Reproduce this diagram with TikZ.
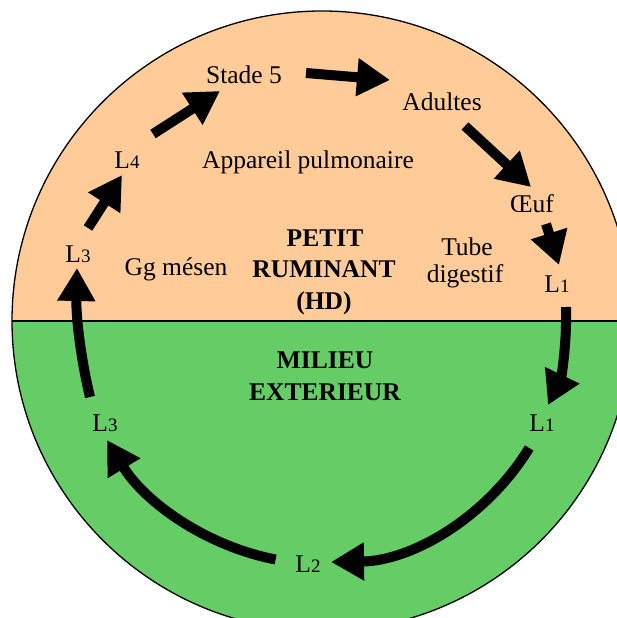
\documentclass[tikz,border=0pt]{standalone}
\usepackage{fontspec}
\setmainfont{Liberation Serif}
\usetikzlibrary{arrows.meta}
\definecolor{peach}{HTML}{FFCC99}
\definecolor{grass}{HTML}{66CC66}
\tikzset{
  lbl/.style={anchor=base, inner sep=0pt, font=\fontsize{25.5}{30}\selectfont},
  blbl/.style={anchor=base, inner sep=0pt, font=\fontsize{25.5}{30}\selectfont\bfseries},
  flow/.style={line width=10pt, -{Triangle[length=33pt,width=36pt]}},
  rim/.style={line width=1.3pt, draw=black}
}
\newcommand{\sdig}[1]{{\fontsize{19}{19}\selectfont #1}}
\begin{document}
\begin{tikzpicture}[x=1pt,y=-1pt]
\useasboundingbox (0,0) rectangle (616,618);
\coordinate (O) at (322,321);
\begin{scope}
  \clip (O) circle[radius=310pt];
  \fill[peach] (0,0) rectangle (640,321);
  \fill[grass] (0,321) rectangle (640,640);
\end{scope}
\draw[rim] (O) circle[radius=310pt];
\coordinate (divL) at (12,321);
\coordinate (divR) at (632,321);
\draw[rim] (divL) -- (divR);

% labels
\node[lbl] (stade) at (244,84) {Stade 5};
\node[lbl] (adultes) at (442,110) {Adultes};
\node[lbl] (appareil) at (308,168) {Appareil pulmonaire};
\node[lbl] (L4) at (127,168.5) {L\sdig{4}};
\node[lbl] (oeuf) at (532,212) {Œuf};
\node[lbl] (tube) at (467,255) {Tube};
\node[lbl] (digestif) at (465,282) {digestif};
\node[lbl] (L1a) at (557,292) {L\sdig{1}};
\node[blbl] (petit) at (325,246) {PETIT};
\node[blbl] (rumin) at (324,277.5) {RUMINANT};
\node[blbl] (hd) at (324,309) {(HD)};
\node[lbl] (gg) at (176,275.5) {Gg mésen};
\node[lbl] (L3a) at (78,262) {L\sdig{3}};
\node[blbl] (milieu) at (325,368) {MILIEU};
\node[blbl] (ext) at (325,400) {EXTERIEUR};
\node[lbl] (L3b) at (105,431) {L\sdig{3}};
\node[lbl] (L1b) at (542,431) {L\sdig{1}};
\node[lbl] (L2) at (308,572) {L\sdig{2}};

% arrow ends
\coordinate (a1s) at (88,228);  \coordinate (a1e) at (122,175);
\coordinate (a2s) at (153,134); \coordinate (a2e) at (220,91);
\coordinate (a3s) at (306,73);  \coordinate (a3e) at (390,80);
\coordinate (a4s) at (465,126); \coordinate (a4e) at (531,187);
\coordinate (a5s) at (546,224); \coordinate (a5e) at (559,265);
\coordinate (a6s) at (566,307); \coordinate (a6e) at (548,405);
\coordinate (a7s) at (529.2,448); \coordinate (a7e) at (331,562);
\coordinate (a8s) at (275.6,559.5); \coordinate (a8e) at (107,440);
\coordinate (a9s) at (90,397);  \coordinate (a9e) at (77,268);

\draw[flow] (a1s) -- (a1e);
\draw[flow] (a2s) -- (a2e);
\draw[flow] (a3s) -- (a3e);
\draw[flow] (a4s) -- (a4e);
\draw[flow] (a5s) -- (a5e);
\draw[flow] (a6s) .. controls (567,345) and (561,378) .. (a6e);
\draw[flow] (a7s) .. controls (486.7,517.4) and (412.2,560.8) .. (a7e);
\draw[flow] (a8s) .. controls (205.1,545.8) and (144.3,501.6) .. (a8e);
\draw[flow] (a9s) .. controls (80,355) and (76,315) .. (a9e);
\end{tikzpicture}
\end{document}
